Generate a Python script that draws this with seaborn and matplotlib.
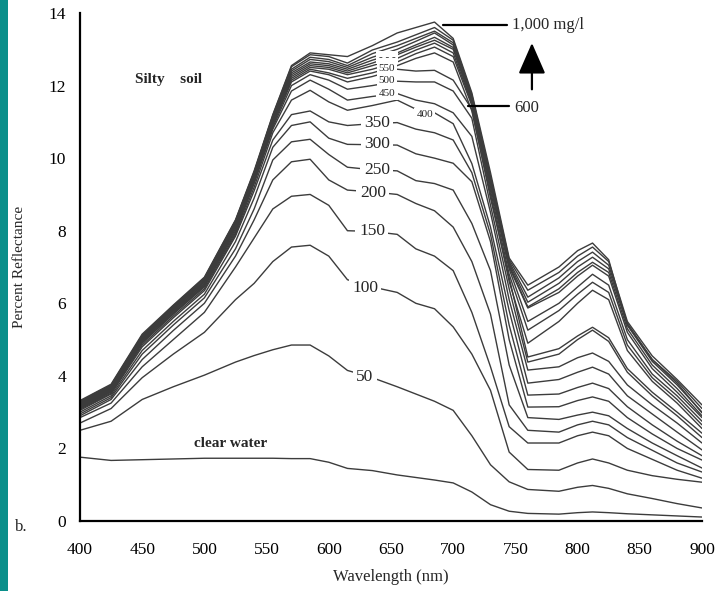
import matplotlib
matplotlib.use("Agg")
import matplotlib.pyplot as plt
from matplotlib.patches import Rectangle
import pandas as pd
import seaborn as sns

# wavelengths (nm) at which the spectra were read
wavelength = [400, 425, 450, 475, 500, 525,
              540, 555, 570, 585, 600,
              615, 635, 655, 670, 685, 700, 715, 730, 745,
              760, 785, 800, 812, 825, 840, 860, 880, 900]

clear_water = [1.76, 1.67, 1.69, 1.71, 1.73, 1.73,
               1.73, 1.73, 1.72, 1.72, 1.62,
               1.45, 1.39, 1.27, 1.20, 1.13, 1.05, 0.80, 0.45, 0.27,
               0.21, 0.19, 0.23, 0.25, 0.23, 0.20, 0.17, 0.14, 0.11]
c50 = [2.50, 2.75, 3.35, 3.70, 4.02, 4.38,
       4.56, 4.72, 4.85, 4.85, 4.55,
       4.15, 3.95, 3.70, 3.50, 3.30, 3.05, 2.35, 1.55, 1.08,
       0.87, 0.82, 0.93, 0.98, 0.90, 0.75, 0.62, 0.48, 0.36]
c100 = [2.70, 3.10, 3.95, 4.60, 5.20, 6.10,
        6.55, 7.15, 7.55, 7.60, 7.30,
        6.65, 6.45, 6.30, 6.00, 5.85, 5.35, 4.60, 3.60, 1.90,
        1.42, 1.40, 1.60, 1.71, 1.60, 1.40, 1.25, 1.15, 1.07]
c150 = [2.85, 3.25, 4.25, 5.00, 5.75, 7.00,
        7.80, 8.60, 8.95, 9.00, 8.70,
        8.00, 7.98, 7.90, 7.50, 7.30, 6.90, 5.75, 4.25, 2.60,
        2.15, 2.15, 2.35, 2.45, 2.35, 2.00, 1.70, 1.40, 1.18]
c200 = [2.90, 3.35, 4.45, 5.25, 6.00, 7.30,
        8.30, 9.40, 9.90, 9.97, 9.40,
        9.12, 9.07, 9.00, 8.75, 8.55, 8.10, 7.15, 5.70, 3.20,
        2.50, 2.45, 2.65, 2.75, 2.65, 2.30, 1.95, 1.60, 1.35]
c250 = [2.95, 3.40, 4.60, 5.40, 6.15, 7.50,
        8.60, 9.95, 10.45, 10.52, 10.10,
        9.75, 9.68, 9.65, 9.38, 9.30, 9.12, 8.20, 6.90, 4.30,
        2.85, 2.80, 2.92, 3.00, 2.90, 2.55, 2.15, 1.80, 1.46]
c300 = [3.00, 3.45, 4.70, 5.50, 6.25, 7.70,
        8.90, 10.30, 10.90, 11.00, 10.55,
        10.38, 10.37, 10.36, 10.12, 10.00, 9.86, 9.35, 7.70, 5.00,
        3.14, 3.15, 3.32, 3.42, 3.30, 2.85, 2.40, 2.00, 1.68]
c350 = [3.05, 3.50, 4.80, 5.60, 6.35, 7.85,
        9.10, 10.50, 11.20, 11.30, 11.00,
        10.90, 10.95, 10.98, 10.80, 10.70, 10.50, 9.60, 7.90, 5.40,
        3.47, 3.50, 3.68, 3.80, 3.65, 3.15, 2.65, 2.20, 1.80]
c400 = [3.08, 3.52, 4.85, 5.65, 6.40, 7.90,
        9.20, 10.70, 11.60, 11.87, 11.55,
        11.32, 11.45, 11.60, 11.35, 11.25, 10.95, 9.85, 8.10, 5.80,
        3.80, 3.90, 4.10, 4.24, 4.05, 3.45, 2.95, 2.45, 1.96]
c450 = [3.10, 3.55, 4.90, 5.70, 6.45, 7.95,
        9.30, 10.80, 11.85, 12.15, 11.90,
        11.60, 11.70, 11.78, 11.60, 11.50, 11.25, 10.60, 8.50, 6.10,
        4.16, 4.25, 4.50, 4.63, 4.40, 3.75, 3.20, 2.70, 2.15]
c500 = [3.12, 3.57, 4.92, 5.72, 6.48, 8.00,
        9.35, 10.85, 12.00, 12.30, 12.15,
        11.90, 12.00, 12.12, 12.10, 12.10, 11.85, 11.10, 8.70, 6.40,
        4.38, 4.60, 5.00, 5.26, 4.95, 4.10, 3.45, 2.90, 2.30]
c550 = [3.14, 3.59, 4.95, 5.75, 6.50, 8.05,
        9.40, 10.90, 12.10, 12.40, 12.30,
        12.10, 12.25, 12.45, 12.40, 12.42, 12.15, 11.35, 8.90, 6.70,
        4.52, 4.75, 5.10, 5.34, 5.05, 4.20, 3.55, 3.00, 2.42]
c600 = [3.16, 3.61, 4.97, 5.78, 6.53, 8.10,
        9.45, 10.95, 12.15, 12.45, 12.35,
        12.20, 12.35, 12.55, 12.75, 12.90, 12.65, 11.30, 9.00, 6.60,
        4.90, 5.50, 6.00, 6.36, 6.10, 4.70, 3.85, 3.25, 2.55]
c650 = [3.18, 3.63, 5.00, 5.80, 6.55, 8.12,
        9.48, 11.00, 12.20, 12.50, 12.45,
        12.30, 12.45, 12.65, 12.88, 13.06, 12.80, 11.45, 9.10, 6.80,
        5.26, 5.80, 6.25, 6.58, 6.30, 4.85, 3.95, 3.35, 2.65]
c700 = [3.20, 3.65, 5.02, 5.83, 6.58, 8.15,
        9.50, 11.05, 12.25, 12.55, 12.50,
        12.35, 12.55, 12.75, 12.98, 13.17, 12.90, 11.50, 9.20, 6.95,
        5.50, 6.00, 6.45, 6.80, 6.50, 5.00, 4.05, 3.45, 2.75]
c750 = [3.22, 3.67, 5.04, 5.85, 6.60, 8.18,
        9.52, 11.08, 12.30, 12.60, 12.55,
        12.40, 12.62, 12.85, 13.06, 13.25, 13.00, 11.55, 9.30, 7.00,
        5.87, 6.30, 6.75, 7.05, 6.75, 5.20, 4.20, 3.55, 2.85]
c800 = [3.24, 3.69, 5.06, 5.87, 6.62, 8.20,
        9.55, 11.10, 12.35, 12.65, 12.60,
        12.45, 12.70, 12.90, 13.12, 13.33, 13.05, 11.60, 9.35, 7.05,
        5.90, 6.40, 6.85, 7.13, 6.85, 5.30, 4.30, 3.65, 2.90]
c850 = [3.26, 3.71, 5.08, 5.89, 6.65, 8.23,
        9.57, 11.12, 12.40, 12.72, 12.66,
        12.50, 12.78, 13.00, 13.22, 13.45, 13.12, 11.65, 9.40, 7.10,
        6.03, 6.55, 7.00, 7.27, 6.95, 5.40, 4.40, 3.75, 3.00]
c900 = [3.28, 3.73, 5.10, 5.91, 6.68, 8.26,
        9.60, 11.15, 12.45, 12.78, 12.72,
        12.55, 12.88, 13.10, 13.30, 13.50, 13.18, 11.70, 9.45, 7.15,
        6.17, 6.70, 7.15, 7.41, 7.05, 5.45, 4.45, 3.85, 3.10]
c950 = [3.30, 3.75, 5.12, 5.93, 6.70, 8.28,
        9.62, 11.18, 12.52, 12.85, 12.80,
        12.62, 12.98, 13.20, 13.40, 13.60, 13.25, 11.75, 9.50, 7.20,
        6.36, 6.85, 7.30, 7.55, 7.15, 5.50, 4.55, 3.90, 3.20]
c1000 = [3.32, 3.77, 5.15, 5.95, 6.72, 8.30,
         9.65, 11.20, 12.55, 12.90, 12.85,
         12.80, 13.10, 13.45, 13.60, 13.75, 13.30, 11.80, 9.60, 7.25,
         6.50, 7.00, 7.45, 7.66, 7.20, 5.40, 4.45, 3.80, 2.98]

curve_names = ["clear", "50", "100", "150", "200", "250", "300", "350", "400",
               "450", "500", "550", "600", "650", "700", "750", "800", "850",
               "900", "950", "1000"]
curve_values = [clear_water, c50, c100, c150, c200, c250, c300, c350, c400,
                c450, c500, c550, c600, c650, c700, c750, c800, c850,
                c900, c950, c1000]

x_ticks = [400, 450, 500, 550, 600, 650, 700, 750, 800, 850, 900]
y_ticks = [0, 2, 4, 6, 8, 10, 12, 14]

# curve labels: text, wavelength, reflectance
big_labels = [("350", 638.7, 10.96), ("300", 638.7, 10.39), ("250", 638.7, 9.67),
              ("200", 635.5, 9.04), ("150", 634.7, 7.99), ("100", 629.1, 6.42),
              ("50", 629.1, 3.97)]
small_labels = [("400", 677.3, 11.21), ("450", 646.8, 11.79), ("500", 646.8, 12.15),
                ("550", 646.8, 12.48), ("- - -", 646.8, 12.78)]

rows = []
for name, vals in zip(curve_names, curve_values):
    for w, v in zip(wavelength, vals):
        rows.append({"curve": name, "wavelength": w, "reflectance": v})
df = pd.DataFrame(rows)

sns.set_theme(style="white")
plt.rcParams["font.family"] = ["Liberation Serif", "DejaVu Serif"]

fig = plt.figure(figsize=(7.18, 5.91), dpi=100)
fig.patches.append(Rectangle((0, 0), 8 / 718, 1, transform=fig.transFigure,
                             facecolor="#0a8f8a", edgecolor="none"))
ax = fig.add_axes([0.1114, 0.1184, 0.8663, 0.8596])

sns.lineplot(data=df, x="wavelength", y="reflectance", units="curve",
             estimator=None, color="#3c3c3c", linewidth=1.0, ax=ax, legend=False)

ax.set_xlim(400, 900)
ax.set_ylim(0, 14)
ax.set_xticks(x_ticks)
ax.set_yticks(y_ticks)
for s in ["top", "right"]:
    ax.spines[s].set_visible(False)
for s in ["left", "bottom"]:
    ax.spines[s].set_linewidth(1.6)
    ax.spines[s].set_color("black")
ax.tick_params(axis="both", direction="inout", length=12, width=1.6,
               colors="black", labelsize=12.5)
ax.tick_params(axis="x", pad=9)
ax.tick_params(axis="y", pad=4)
ax.set_xlabel("Wavelength (nm)", fontsize=12, labelpad=8)
ax.set_ylabel("Percent Reflectance", fontsize=11, labelpad=16)
ax.grid(False)

box = dict(boxstyle="square,pad=0.2", facecolor="white", edgecolor="none")
for t, x, y in big_labels:
    ax.text(x, y, t, fontsize=12.5, ha="center", va="center", bbox=box, zorder=5)
for t, x, y in small_labels:
    ax.text(x, y, t, fontsize=8, ha="center", va="center", bbox=box, zorder=5)

ax.text(444, 12.18, "Silty    soil", fontsize=11, fontweight="bold",
        ha="left", va="center")
ax.text(492, 2.15, "clear water", fontsize=11, fontweight="bold",
        ha="left", va="center")

# leader lines and arrow
ax.plot([692, 743], [13.66, 13.66], color="black", lw=1.6, zorder=6)
ax.text(747, 13.66, "1,000 mg/l", fontsize=12, ha="left", va="center")
ax.plot([712, 745], [11.43, 11.43], color="black", lw=1.6, zorder=6)
ax.text(749, 11.38, "600", fontsize=12, ha="left", va="center")
ax.annotate("", xy=(763.3, 13.25), xytext=(763.3, 11.82),
            arrowprops=dict(arrowstyle="-|>,head_length=1.6,head_width=0.7",
                            lw=1.6, color="black"))

fig.text(15 / 718, 1 - 527 / 591, "b.", fontsize=12, ha="left", va="center")

fig.savefig("out.png", dpi=100)
